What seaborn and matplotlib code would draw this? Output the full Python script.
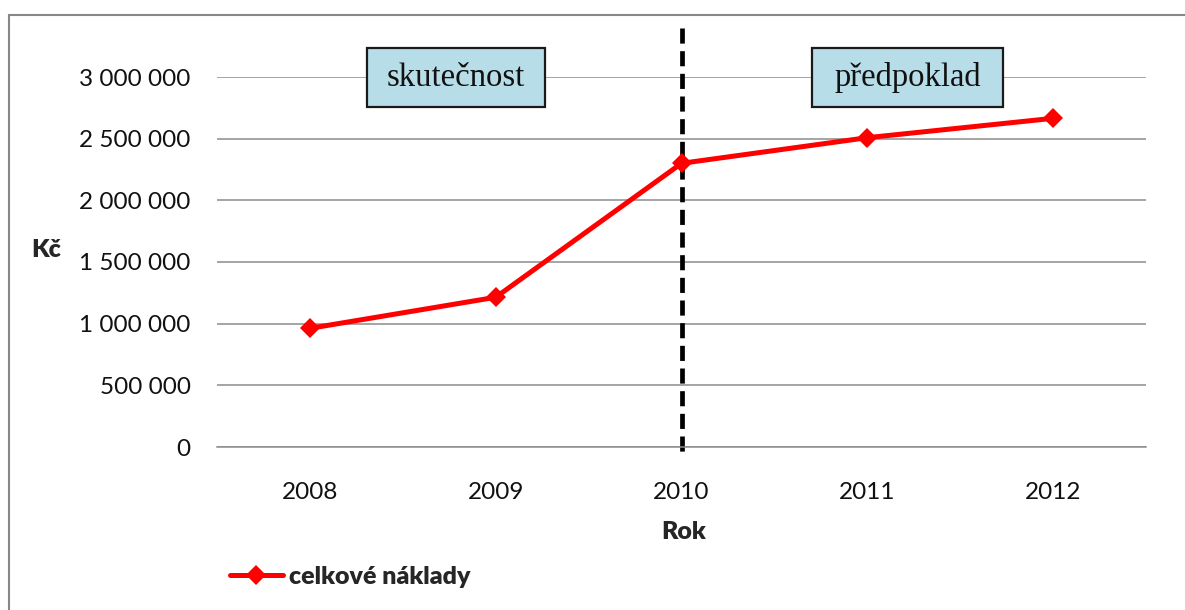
import numpy as np
import pandas as pd
import seaborn as sns
import matplotlib.pyplot as plt
from matplotlib.patches import Rectangle
from matplotlib.ticker import FuncFormatter
import matplotlib.transforms as mtransforms

roky = ["2008", "2009", "2010", "2011", "2012"]
naklady = [962000, 1214000, 2300000, 2508000, 2665000]
rozdeleni = "2010"
popisky = ["skutečnost", "předpoklad"]

df = pd.DataFrame({"Rok": roky, "naklady": naklady})

sns.set_style("white")
plt.rcParams["font.family"] = ["Lato", "DejaVu Sans"]

fig = plt.figure(figsize=(11.85, 6.1), dpi=100)
ax = fig.add_axes([217 / 1185, 1 - 447 / 610, 929 / 1185, 370 / 610])

sns.lineplot(data=df, x="Rok", y="naklady", ax=ax, color="#ff0000", linewidth=3.6,
             marker="D", markersize=10, markeredgewidth=0, label="celkové náklady")

ax.set_xlim(-0.5, len(roky) - 0.5)
ax.set_ylim(0, 3000000)
ax.set_yticks(np.arange(0, 3000001, 500000))
ax.yaxis.set_major_formatter(FuncFormatter(lambda v, p: f"{v:,.0f}".replace(",", " ")))
ax.grid(axis="y", color="#8c8c8c", linewidth=1.1)
ax.grid(axis="x", visible=False)
for s in ["top", "right", "left"]:
    ax.spines[s].set_visible(False)
ax.spines["bottom"].set_color("#8c8c8c")
ax.spines["bottom"].set_linewidth(1.1)
ax.tick_params(axis="y", length=0, pad=19, labelsize=17.5, labelcolor="#111111")
ax.tick_params(axis="x", length=0, pad=25, labelsize=17.5, labelcolor="#111111")

ax.set_xlabel("Rok", fontsize=18, fontweight="heavy")
ax.xaxis.set_label_coords(0.5027, -0.2)
ax.set_ylabel("Kč", fontsize=18, fontweight="heavy", rotation=0, va="center", ha="center")
ax.yaxis.set_label_coords(-0.184, 0.532)

# svisla cara mezi skutecnosti a predpokladem
trans = mtransforms.blended_transform_factory(ax.transData, ax.transAxes)
xi = roky.index(rozdeleni)
ax.plot([xi, xi], [1.1324, -0.03], transform=trans, color="black", linewidth=3.4,
        linestyle=(0, (3.2, 1.6)), clip_on=False, zorder=1)

# popisky v ramecku
boxy = [(0.1615, 0.3531), (0.6405, 0.8461)]
for text, (x0, x1) in zip(popisky, boxy):
    ax.add_patch(Rectangle((x0, 0.9189), x1 - x0, 0.1595, transform=ax.transAxes,
                           facecolor="#b7dde8", edgecolor="#1a1a1a", linewidth=1.6,
                           clip_on=False, zorder=3))
    ax.text((x0 + x1) / 2, 0.9986, text, transform=ax.transAxes, ha="center", va="center",
            fontsize=23.5, family="Liberation Serif", color="#111111", zorder=4)

leg = ax.legend(loc="center left", bbox_to_anchor=(230 / 1185, 1 - 577 / 610),
                bbox_transform=fig.transFigure, frameon=False, borderaxespad=0, borderpad=0,
                handlelength=2.1, handletextpad=0.25, prop={"size": 18, "weight": "heavy"})

fig.add_artist(Rectangle((9 / 1185, -0.1), 1.2, 1.0754, transform=fig.transFigure,
                         fill=False, edgecolor="#878787", linewidth=1.5))

fig.savefig("out.png", dpi=100)
